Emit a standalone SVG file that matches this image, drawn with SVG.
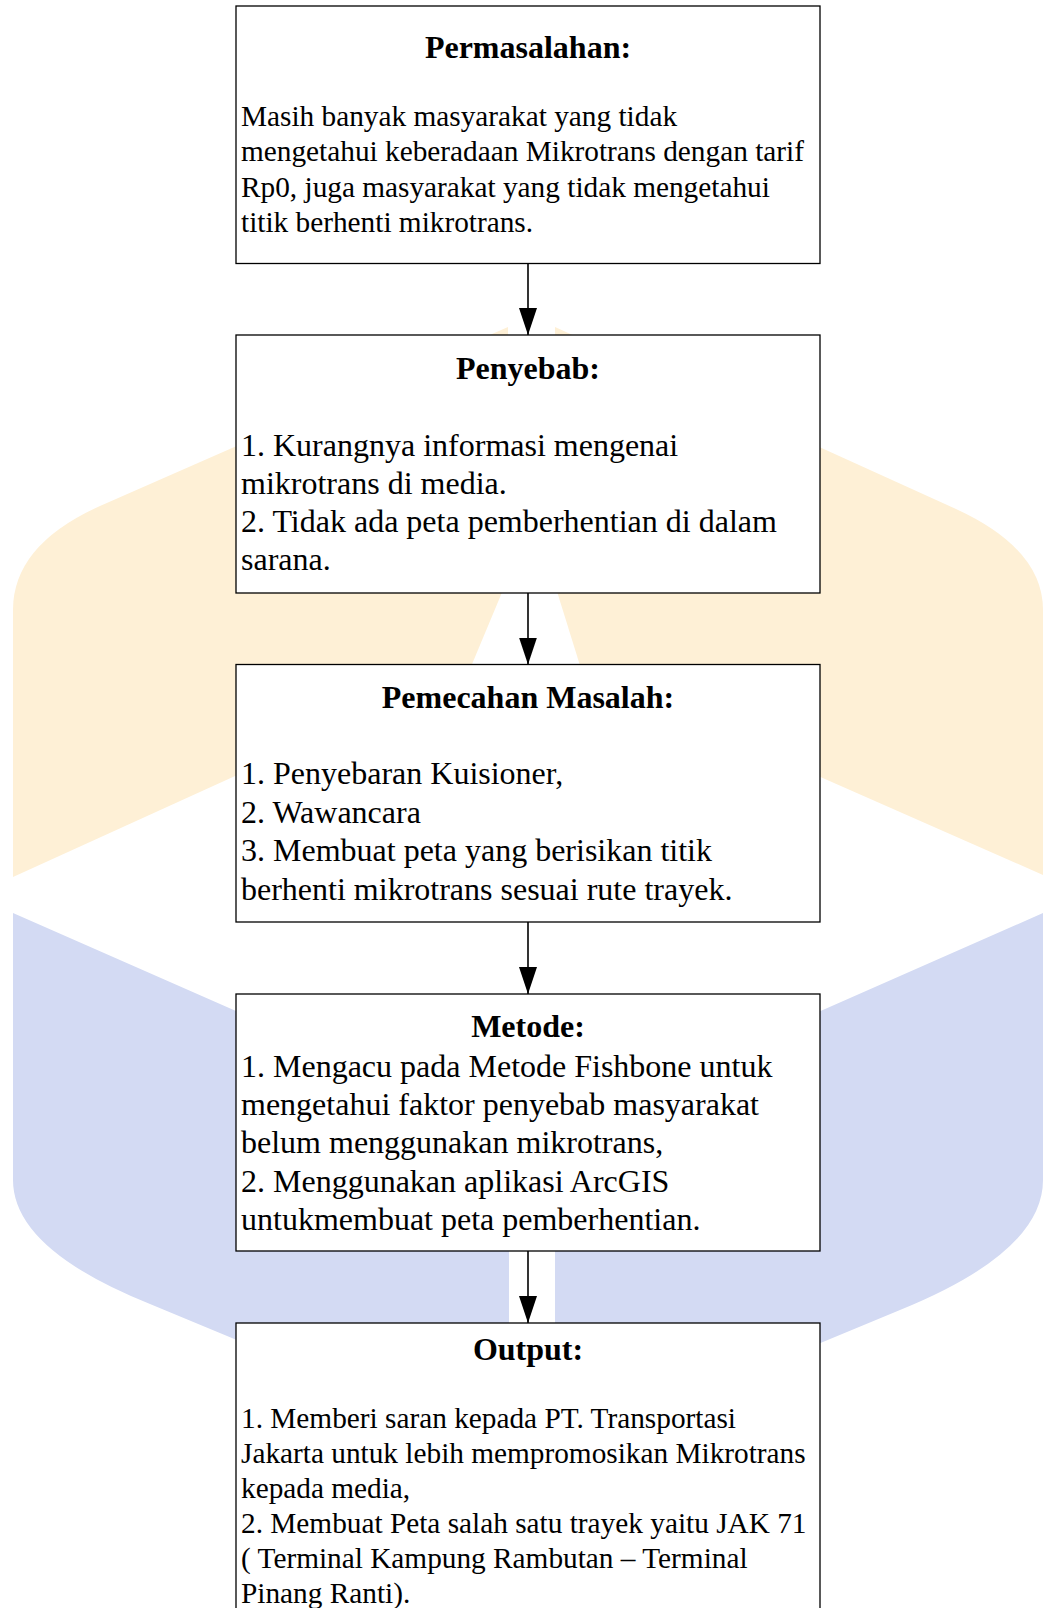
<svg xmlns="http://www.w3.org/2000/svg" width="1046" height="1608" viewBox="0 0 1046 1608">
<defs>
<style>
.box{fill:#fff;stroke:#000;stroke-width:1.3}
.t{font-family:"Liberation Serif","Times New Roman",serif;font-size:32px;font-weight:bold;text-anchor:middle;fill:#000}
.b{font-family:"Liberation Serif","Times New Roman",serif;font-size:32px;fill:#000}
.s{font-size:29.3px}
.edge{stroke:#000;stroke-width:1.6;fill:none}
.yel{fill:#FEF0D6}
.blu{fill:#D3DAF3}
</style>
<marker id="ah" markerWidth="27" markerHeight="18" refX="27" refY="9" orient="auto" markerUnits="userSpaceOnUse" viewBox="0 0 27 18">
<path d="M0 0 L27 9 L0 18 Z" fill="#000"/>
</marker>
</defs>
<rect width="1046" height="1608" fill="#fff"/>
<g id="watermark">
<path class="yel" d="M13 610 L13 877 L470 669 L508 578 L508 327 L100 506 Q13 545 13 610 Z"/>
<path class="yel" d="M1043 610 L1043 875 L582 672 L555 585 L555 327 L956 509 Q1043 549 1043 610 Z"/>
<path class="blu" d="M13 913 L509 1131 L509 1453 L150 1304 Q13 1249 13 1180 Z"/>
<path class="blu" d="M1043 913 L555 1128 L555 1453 L900 1310 Q1043 1252 1043 1180 Z"/>
</g>
<g id="connectors">
<line class="edge" x1="528" y1="263.5" x2="528" y2="335" marker-end="url(#ah)"/>
<line class="edge" x1="528" y1="593" x2="528" y2="664.5" marker-end="url(#ah)"/>
<line class="edge" x1="528" y1="922" x2="528" y2="994" marker-end="url(#ah)"/>
<line class="edge" x1="528" y1="1251" x2="528" y2="1323" marker-end="url(#ah)"/>
</g>
<g id="permasalahan">
<rect class="box" x="236" y="6" width="584" height="257.5"/>
<text class="t" x="528" y="58">Permasalahan:</text>
<text class="b s" x="241" y="126">Masih banyak masyarakat yang tidak</text>
<text class="b s" x="241" y="161.3">mengetahui keberadaan Mikrotrans dengan tarif</text>
<text class="b s" x="241" y="196.6">Rp0, juga masyarakat yang tidak mengetahui</text>
<text class="b s" x="241" y="231.9">titik berhenti mikrotrans.</text>
</g>
<g id="penyebab">
<rect class="box" x="236" y="335" width="584" height="258"/>
<text class="t" x="528" y="379">Penyebab:</text>
<text class="b" x="241" y="456">1. Kurangnya informasi mengenai</text>
<text class="b" x="241" y="494">mikrotrans di media.</text>
<text class="b" x="241" y="532">2. Tidak ada peta pemberhentian di dalam</text>
<text class="b" x="241" y="570">sarana.</text>
</g>
<g id="pemecahan">
<rect class="box" x="236" y="664.5" width="584" height="257.5"/>
<text class="t" x="528" y="708">Pemecahan Masalah:</text>
<text class="b" x="241" y="784">1. Penyebaran Kuisioner,</text>
<text class="b" x="241" y="822.5">2. Wawancara</text>
<text class="b" x="241" y="861">3. Membuat peta yang berisikan titik</text>
<text class="b" x="241" y="899.5">berhenti mikrotrans sesuai rute trayek.</text>
</g>
<g id="metode">
<rect class="box" x="236" y="994" width="584" height="257"/>
<text class="t" x="528" y="1036.5">Metode:</text>
<text class="b" x="241" y="1076.5">1. Mengacu pada Metode Fishbone untuk</text>
<text class="b" x="241" y="1115">mengetahui faktor penyebab masyarakat</text>
<text class="b" x="241" y="1153.4">belum menggunakan mikrotrans,</text>
<text class="b" x="241" y="1191.6">2. Menggunakan aplikasi ArcGIS</text>
<text class="b" x="241" y="1230">untukmembuat peta pemberhentian.</text>
</g>
<g id="output">
<rect class="box" x="236" y="1323" width="584" height="300"/>
<text class="t" x="528" y="1359.5">Output:</text>
<text class="b s" x="241" y="1428.3">1. Memberi saran kepada PT. Transportasi</text>
<text class="b s" x="241" y="1463.2">Jakarta untuk lebih mempromosikan Mikrotrans</text>
<text class="b s" x="241" y="1498">kepada media,</text>
<text class="b s" x="241" y="1533.4">2. Membuat Peta salah satu trayek yaitu JAK 71</text>
<text class="b s" x="241" y="1568.4">( Terminal Kampung Rambutan – Terminal</text>
<text class="b s" x="241" y="1603">Pinang Ranti).</text>
</g>
</svg>
